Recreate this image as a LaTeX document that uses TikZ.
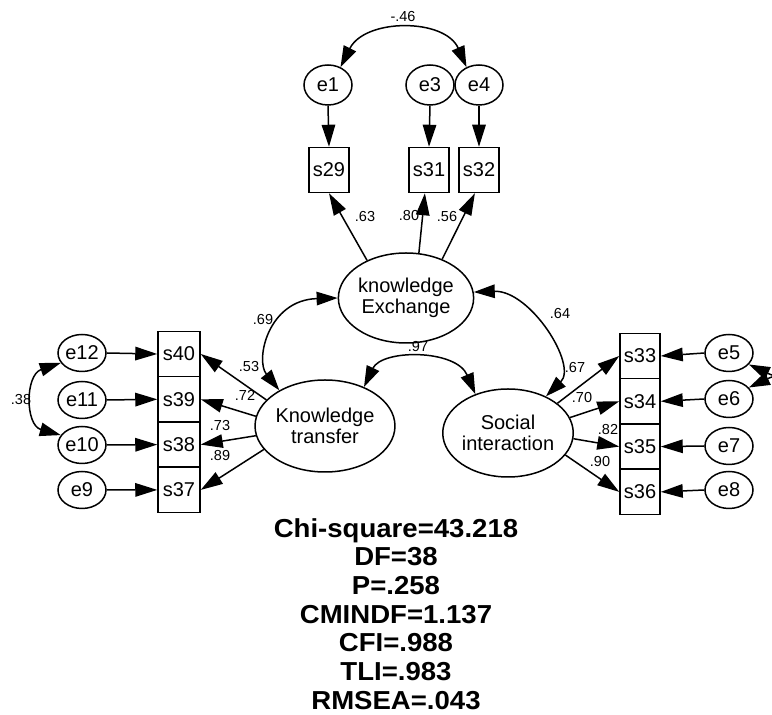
\documentclass[tikz,border=0pt]{standalone}
\usepackage{fontspec}
\setmainfont{Liberation Sans}
\usetikzlibrary{arrows.meta,shapes.geometric}
\begin{document}
\begin{tikzpicture}[x=1pt,y=1pt,
  lw/.style={line width=1.5pt},
  tip/.style={lw,-{Triangle[length=22pt,width=13.5pt]}},
  dtip/.style={lw,{Triangle[length=21pt,width=13.5pt]}-{Triangle[length=21pt,width=13.5pt]}},
  err/.style={ellipse,draw,lw,minimum width=48pt,minimum height=37pt,inner sep=0pt,font=\fontsize{20}{22}\selectfont},
  errtop/.style={err,minimum height=40pt},
  obs/.style={rectangle,draw,lw,minimum width=40pt,minimum height=45.3pt,inner sep=0pt,font=\fontsize{20}{22}\selectfont},
  lat/.style={ellipse,draw,lw,inner sep=0pt,align=center,font=\fontsize{20}{21}\selectfont},
  lab/.style={font=\fontsize{14.5}{16}\selectfont,inner sep=0pt}
]
\useasboundingbox (0,0) rectangle (772,715);
\clip (0,0) rectangle (772,715);
\fill[white] (0,0) rectangle (772,715);

% top
\node[errtop] (e1) at (328,630) {e1};
\node[errtop] (e3) at (430,630) {e3};
\node[errtop] (e4) at (479,630) {e4};
\node[obs,minimum height=45pt] (s29) at (329,545) {s29};
\node[obs,minimum height=45pt] (s31) at (429,545) {s31};
\node[obs,minimum height=45pt] (s32) at (479,545) {s32};

% latents
\node[lat,minimum width=128pt,minimum height=90pt] (KE) at (406,417) {knowledge\\Exchange};
\node[lat,minimum width=126pt,minimum height=92pt] (KT) at (325,289) {Knowledge\\transfer};
\node[lat,minimum width=130pt,minimum height=88pt] (SI) at (508,282) {Social\\interaction};

% left
\node[obs,minimum width=42pt] (s40) at (179,361) {s40};
\node[obs,minimum width=42pt] (s39) at (179,315.7) {s39};
\node[obs,minimum width=42pt] (s38) at (179,270.4) {s38};
\node[obs,minimum width=42pt] (s37) at (179,225.1) {s37};
\node[err] (e12) at (82,362) {e12};
\node[err] (e11) at (82,315) {e11};
\node[err] (e10) at (82,270) {e10};
\node[err] (e9) at (82,225) {e9};

% right
\node[obs] (s33) at (640,359) {s33};
\node[obs] (s34) at (640,313.7) {s34};
\node[obs] (s35) at (640,268.4) {s35};
\node[obs] (s36) at (640,223.1) {s36};
\node[err] (e5) at (729,362) {e5};
\node[err] (e6) at (729,316) {e6};
\node[err] (e7) at (729,269) {e7};
\node[err] (e8) at (729,225) {e8};

% error arrows
\draw[tip] (e1.south) -- (s29.north);
\draw[tip] (e3.south) -- (s31.north);
\draw[tip] (e4.south) -- (s32.north);
\draw[tip] (e12.east) -- (s40.west);
\draw[tip] (e11.east) -- (s39.west);
\draw[tip] (e10.east) -- (s38.west);
\draw[tip] (e9.east) -- (s37.west);
\draw[tip] (e5.west) -- (s33.east);
\draw[tip] (e6.west) -- (s34.east);
\draw[tip] (e7.west) -- (s35.east);
\draw[tip] (e8.west) -- (s36.east);

% loadings
\draw[tip] (KE.136) -- (s29.south);
\draw[tip] (KE.74) -- (s31.-100);
\draw[tip] (KE.47) -- (s32.-100);
\draw[tip] (KT.156) -- (s40.east);
\draw[tip] (KT.172) -- (s39.east);
\draw[tip] (KT.188) -- (s38.east);
\draw[tip] (KT.201) -- (s37.east);
\draw[tip] (SI.31) -- (s33.west);
\draw[tip] (SI.14) -- (s34.west);
\draw[tip] (SI.-5) -- (s35.west);
\draw[tip] (SI.-21) -- (s36.west);

% covariances
\draw[dtip] (e1.55) .. controls (365,697) and (445,697) .. (e4.125);
\draw[dtip] (KT.142) .. controls (255,355) and (268,415) .. (KE.west);
\draw[dtip] (SI.44) .. controls (578,350) and (530,425) .. (KE.5);
\draw[dtip] (KT.45) .. controls (382,366) and (456,366) .. (SI.130);
\draw[dtip] (e10.155) .. controls (25,290) and (25,340) .. (e12.205);
\draw[dtip] (e5.-30) .. controls (782,335) and (782,343) .. (e6.30);

% labels
\node[lab] (l46) at (403,698) {-.46};
\node[lab] (l63) at (365,498) {.63};
\node[lab] (l80) at (409,499) {.80};
\node[lab] (l56) at (447,498) {.56};
\node[lab] (l69) at (263,395) {.69};
\node[lab] (l64) at (560,401) {.64};
\node[lab] (l97) at (418,368) {.97};
\node[lab] (l53) at (249,348) {.53};
\node[lab] (l72) at (245,320) {.72};
\node[lab] (l73) at (220,289) {.73};
\node[lab] (l89) at (220,259) {.89};
\node[lab] (l67) at (575,347) {.67};
\node[lab] (l70) at (582,317) {.70};
\node[lab] (l82) at (608,285) {.82};
\node[lab] (l90) at (600,253) {.90};
\node[lab] (l38) at (21,315) {.38};

% fit statistics
\node[align=center,inner sep=0pt,xscale=1.06,font=\bfseries\fontsize{26}{28.67}\selectfont] (stats) at (396,101)
 {Chi-square=43.218\\DF=38\\P=.258\\CMINDF=1.137\\CFI=.988\\TLI=.983\\RMSEA=.043};
\end{tikzpicture}
\end{document}
